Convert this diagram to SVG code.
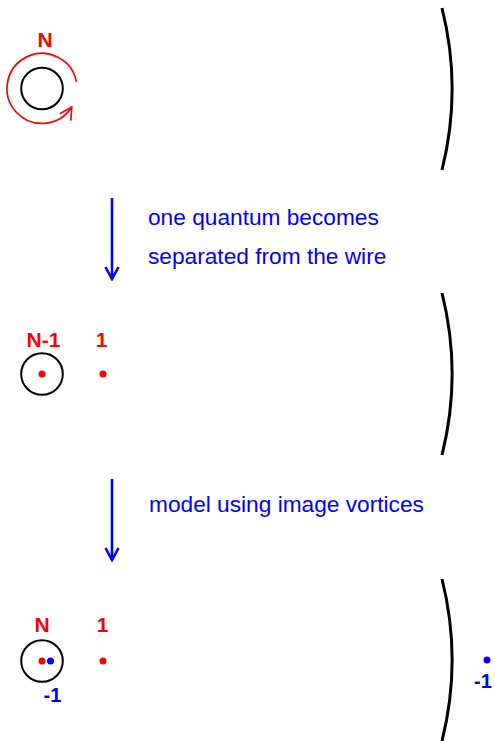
<svg xmlns="http://www.w3.org/2000/svg" width="495" height="741" viewBox="0 0 495 741">
<style>
.wire{fill:none;stroke:#000;stroke-width:2}
.wall{fill:none;stroke:#000;stroke-width:3}
.lbl{font-family:"Liberation Sans",Arial,sans-serif;font-weight:bold;font-size:21px;text-anchor:middle}
.sm{font-size:20px}
.red{fill:#ff0000}
.blue{fill:#0000ff}
.cap{font-family:"Liberation Sans",Arial,sans-serif;font-size:22.7px;fill:#0000ff}
.step{stroke:#0000ff;stroke-width:2.6;fill:none}
</style>
<defs>
<marker id="vb" markerUnits="userSpaceOnUse" viewBox="-14 -8 16 16" refX="0" refY="0" markerWidth="16" markerHeight="16" orient="auto">
<path d="M-12,-6.5 L0,0 L-12,6.5" fill="none" stroke="#0000ff" stroke-width="2.6"/>
</marker>
<marker id="vr" markerUnits="userSpaceOnUse" viewBox="-14 -8 16 16" refX="0" refY="0" markerWidth="16" markerHeight="16" orient="auto">
<path d="M-12,-6.5 L0,0 L-12,6.5" fill="none" stroke="#ff0000" stroke-width="1.7"/>
</marker>
</defs>
<g id="stage1">
<text class="lbl red" x="45" y="46.7">N</text>
<circle class="wire" cx="42" cy="88.5" r="20.8"/>
<path d="M76.4,81.8 A35,35 0 1 0 71.7,107" fill="none" stroke="#ff0000" stroke-width="1.7" marker-end="url(#vr)"/>
<path class="wall" d="M442,8 A333,333 0 0 1 442,170"/>
</g>
<g id="stage2">
<text class="lbl red" x="43.5" y="346.7">N-1</text>
<text class="lbl red" x="101.5" y="346.7">1</text>
<circle class="wire" cx="42" cy="374" r="20.8"/>
<circle class="red" cx="42" cy="374" r="3.5"/>
<circle class="red" cx="103" cy="374" r="3.5"/>
<path class="wall" d="M442,293 A333,333 0 0 1 442,455"/>
</g>
<g id="stage3">
<text class="lbl red" x="42" y="632">N</text>
<text class="lbl red" x="102.5" y="632">1</text>
<circle class="wire" cx="42" cy="661" r="20.8"/>
<circle class="red" cx="42" cy="661" r="3.5"/>
<circle class="blue" cx="50.5" cy="661" r="3.5"/>
<circle class="red" cx="103" cy="661" r="3.5"/>
<text class="lbl sm blue" x="52.5" y="702">-1</text>
<path class="wall" d="M442,579 A333,333 0 0 1 442,741"/>
<circle class="blue" cx="487" cy="660" r="3.5"/>
<text class="lbl sm blue" x="483" y="688">-1</text>
</g>
<g id="connectors">
<line class="step" x1="112" y1="198" x2="112" y2="279" marker-end="url(#vb)"/>
<line class="step" x1="112" y1="479" x2="112" y2="560" marker-end="url(#vb)"/>
<text class="cap" x="148" y="225">one quantum becomes</text>
<text class="cap" x="148" y="264">separated from the wire</text>
<text class="cap" x="149" y="512">model using image vortices</text>
</g>
</svg>
